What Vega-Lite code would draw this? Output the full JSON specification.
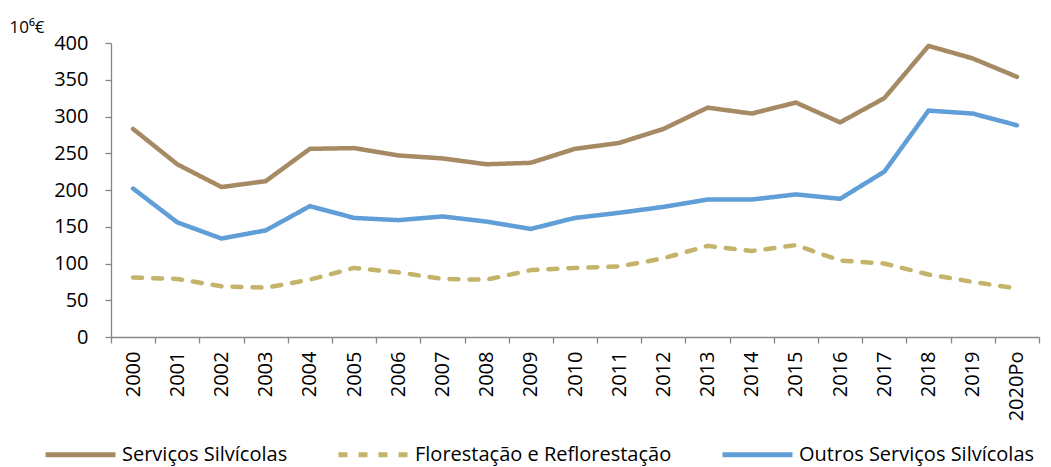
{
  "$schema": "https://vega.github.io/schema/vega-lite/v6.json",
  "width": 928,
  "height": 294,
  "autosize": {"type": "none"},
  "padding": {"left": 111, "top": 43, "right": 12, "bottom": 130},
  "background": "white",
  "config": {
    "view": {"stroke": null},
    "font": "Open Sans",
    "axis": {"domainColor": "#868686", "tickColor": "#868686", "labelColor": "#000000", "grid": false, "labelFont": "Open Sans", "labelFontSize": 20, "tickSize": 6, "domainWidth": 1.3, "tickWidth": 1.3}
  },
  "data": {
    "values": [
      {"year": "2000", "series": "Serviços Silvícolas", "value": 283},
      {"year": "2001", "series": "Serviços Silvícolas", "value": 235},
      {"year": "2002", "series": "Serviços Silvícolas", "value": 204},
      {"year": "2003", "series": "Serviços Silvícolas", "value": 212},
      {"year": "2004", "series": "Serviços Silvícolas", "value": 256},
      {"year": "2005", "series": "Serviços Silvícolas", "value": 257},
      {"year": "2006", "series": "Serviços Silvícolas", "value": 247},
      {"year": "2007", "series": "Serviços Silvícolas", "value": 243},
      {"year": "2008", "series": "Serviços Silvícolas", "value": 235},
      {"year": "2009", "series": "Serviços Silvícolas", "value": 237},
      {"year": "2010", "series": "Serviços Silvícolas", "value": 256},
      {"year": "2011", "series": "Serviços Silvícolas", "value": 264},
      {"year": "2012", "series": "Serviços Silvícolas", "value": 283},
      {"year": "2013", "series": "Serviços Silvícolas", "value": 312},
      {"year": "2014", "series": "Serviços Silvícolas", "value": 304},
      {"year": "2015", "series": "Serviços Silvícolas", "value": 319},
      {"year": "2016", "series": "Serviços Silvícolas", "value": 292},
      {"year": "2017", "series": "Serviços Silvícolas", "value": 325},
      {"year": "2018", "series": "Serviços Silvícolas", "value": 396},
      {"year": "2019", "series": "Serviços Silvícolas", "value": 379},
      {"year": "2020Po", "series": "Serviços Silvícolas", "value": 354},
      {"year": "2000", "series": "Florestação e Reflorestação", "value": 81},
      {"year": "2001", "series": "Florestação e Reflorestação", "value": 79},
      {"year": "2002", "series": "Florestação e Reflorestação", "value": 69},
      {"year": "2003", "series": "Florestação e Reflorestação", "value": 67},
      {"year": "2004", "series": "Florestação e Reflorestação", "value": 78},
      {"year": "2005", "series": "Florestação e Reflorestação", "value": 94},
      {"year": "2006", "series": "Florestação e Reflorestação", "value": 88},
      {"year": "2007", "series": "Florestação e Reflorestação", "value": 79},
      {"year": "2008", "series": "Florestação e Reflorestação", "value": 78},
      {"year": "2009", "series": "Florestação e Reflorestação", "value": 91},
      {"year": "2010", "series": "Florestação e Reflorestação", "value": 94},
      {"year": "2011", "series": "Florestação e Reflorestação", "value": 96},
      {"year": "2012", "series": "Florestação e Reflorestação", "value": 107},
      {"year": "2013", "series": "Florestação e Reflorestação", "value": 124},
      {"year": "2014", "series": "Florestação e Reflorestação", "value": 117},
      {"year": "2015", "series": "Florestação e Reflorestação", "value": 125},
      {"year": "2016", "series": "Florestação e Reflorestação", "value": 104},
      {"year": "2017", "series": "Florestação e Reflorestação", "value": 100},
      {"year": "2018", "series": "Florestação e Reflorestação", "value": 85},
      {"year": "2019", "series": "Florestação e Reflorestação", "value": 75},
      {"year": "2020Po", "series": "Florestação e Reflorestação", "value": 66},
      {"year": "2000", "series": "Outros Serviços Silvícolas", "value": 202},
      {"year": "2001", "series": "Outros Serviços Silvícolas", "value": 156},
      {"year": "2002", "series": "Outros Serviços Silvícolas", "value": 134},
      {"year": "2003", "series": "Outros Serviços Silvícolas", "value": 145},
      {"year": "2004", "series": "Outros Serviços Silvícolas", "value": 178},
      {"year": "2005", "series": "Outros Serviços Silvícolas", "value": 162},
      {"year": "2006", "series": "Outros Serviços Silvícolas", "value": 159},
      {"year": "2007", "series": "Outros Serviços Silvícolas", "value": 164},
      {"year": "2008", "series": "Outros Serviços Silvícolas", "value": 157},
      {"year": "2009", "series": "Outros Serviços Silvícolas", "value": 147},
      {"year": "2010", "series": "Outros Serviços Silvícolas", "value": 162},
      {"year": "2011", "series": "Outros Serviços Silvícolas", "value": 169},
      {"year": "2012", "series": "Outros Serviços Silvícolas", "value": 177},
      {"year": "2013", "series": "Outros Serviços Silvícolas", "value": 187},
      {"year": "2014", "series": "Outros Serviços Silvícolas", "value": 187},
      {"year": "2015", "series": "Outros Serviços Silvícolas", "value": 194},
      {"year": "2016", "series": "Outros Serviços Silvícolas", "value": 188},
      {"year": "2017", "series": "Outros Serviços Silvícolas", "value": 225},
      {"year": "2018", "series": "Outros Serviços Silvícolas", "value": 308},
      {"year": "2019", "series": "Outros Serviços Silvícolas", "value": 304},
      {"year": "2020Po", "series": "Outros Serviços Silvícolas", "value": 288}
    ]
  },
  "mark": {"type": "line", "strokeWidth": 4.5, "strokeCap": "round", "strokeJoin": "round"},
  "encoding": {
    "x": {
      "field": "year",
      "type": "ordinal",
      "bandPosition": 0.5,
      "scale": {"type": "band", "paddingInner": 0, "paddingOuter": 0},
      "axis": {"title": null, "labelAngle": 270, "tickBand": "extent", "labelPadding": 8}
    },
    "y": {
      "field": "value",
      "type": "quantitative",
      "scale": {"domain": [0, 400], "nice": false},
      "axis": {
        "values": [0, 50, 100, 150, 200, 250, 300, 350, 400],
        "title": "10⁶€",
        "titleAngle": 0,
        "titleAlign": "left",
        "titleBaseline": "middle",
        "titleX": -102,
        "titleY": -16,
        "titleFont": "Open Sans",
        "titleFontSize": 17,
        "titleFontWeight": "normal",
        "labelPadding": 17
      }
    },
    "color": {
      "field": "series",
      "type": "nominal",
      "scale": {
        "domain": ["Serviços Silvícolas", "Florestação e Reflorestação", "Outros Serviços Silvícolas"],
        "range": ["#A68A64", "#C4B46B", "#5F9ED6"]
      },
      "legend": {
        "title": null,
        "orient": "none",
        "legendX": -68,
        "legendY": 374,
        "direction": "horizontal",
        "columns": 3,
        "columnPadding": 40,
        "symbolType": "stroke",
        "symbolSize": 4900,
        "symbolStrokeWidth": 5,
        "labelFont": "Open Sans",
        "labelFontSize": 20,
        "labelLimit": 400,
        "labelColor": "#000000",
        "labelOffset": 4
      }
    },
    "strokeDash": {
      "field": "series",
      "type": "nominal",
      "scale": {
        "domain": ["Serviços Silvícolas", "Florestação e Reflorestação", "Outros Serviços Silvícolas"],
        "range": [[1, 0], [9, 11], [1, 0]]
      },
      "legend": null
    }
  }
}
